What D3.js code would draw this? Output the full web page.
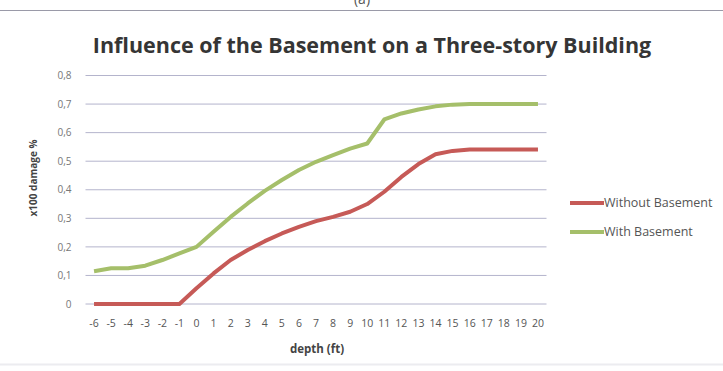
<!DOCTYPE html>
<html>
<head>
<meta charset="utf-8">
<script src="https://cdn.jsdelivr.net/npm/d3@7"></script>
<style>
  html, body { margin: 0; padding: 0; background: #fff; }
  svg { display: block; }
  text { font-family: "Open Sans", Lato, sans-serif; }
</style>
</head>
<body>
<svg id="chart" width="723" height="371"></svg>
<script>
// Depth categories (ft) along the x axis
const depths = [-6, -5, -4, -3, -2, -1, 0, 1, 2, 3, 4, 5, 6, 7, 8, 9, 10, 11, 12, 13, 14, 15, 16, 17, 18, 19, 20];

// Damage ratio (x100 %) per depth
const withoutBasement = [0, 0, 0, 0, 0, 0, 0.055, 0.107, 0.154, 0.189, 0.22, 0.247, 0.27, 0.29, 0.305,
  0.323, 0.35, 0.393, 0.445, 0.49, 0.524, 0.536, 0.541, 0.541, 0.541, 0.541, 0.541];
const withBasement = [0.115, 0.125, 0.125, 0.134, 0.154, 0.177, 0.2, 0.253, 0.305, 0.352, 0.396, 0.434, 0.469,
  0.498, 0.521, 0.544, 0.562, 0.646, 0.667, 0.681, 0.692, 0.698, 0.70, 0.70, 0.70, 0.70, 0.70];

const yTicks = [0, 0.1, 0.2, 0.3, 0.4, 0.5, 0.6, 0.7, 0.8];
const seriesNames = ["Without Basement", "With Basement"];
const seriesColors = ["#c65a57", "#a5bf6a"];

const svg = d3.select("#chart");

// Rule across the top of the figure, with the clipped panel label above it
svg.append("text").attr("x", 362).attr("y", 4).attr("text-anchor", "middle")
  .attr("font-size", 14).attr("fill", "#555").text("(a)");
svg.append("rect").attr("x", 0).attr("y", 11).attr("width", 723).attr("height", 360).attr("fill", "#fff");
svg.append("line").attr("x1", 0).attr("x2", 723).attr("y1", 10.5).attr("y2", 10.5)
  .attr("stroke", "#9a9aa8").attr("stroke-width", 1.2);

// Faint lower edge of the chart area
svg.append("line").attr("x1", 0).attr("x2", 723).attr("y1", 364.5).attr("y2", 364.5)
  .attr("stroke", "#ececf0").attr("stroke-width", 2);

const plot = { left: 85.5, right: 546.5, top: 75.5, bottom: 304 };

const x = d3.scaleBand().domain(depths).range([plot.left, plot.right]);
const y = d3.scaleLinear().domain([0, 0.8]).range([plot.bottom, plot.top]);
const cx = d => x(d) + x.bandwidth() / 2;

// Title
svg.append("text").attr("x", 372).attr("y", 53).attr("text-anchor", "middle")
  .attr("font-size", 21.5).attr("font-weight", "bold").attr("fill", "#353535")
  .text("Influence of the Basement on a Three-story Building");

// Horizontal gridlines
svg.append("g").selectAll("line").data(yTicks).join("line")
  .attr("x1", plot.left).attr("x2", plot.right)
  .attr("y1", d => y(d)).attr("y2", d => y(d))
  .attr("stroke", "#b4b4cc").attr("stroke-width", 1);

// Y axis tick labels (comma decimals)
const fmtComma = d => d === 0 ? "0" : d3.format(".1f")(d).replace(".", ",");
const yAxis = d3.axisLeft(y).tickValues(yTicks).tickFormat(fmtComma).tickSize(0).tickPadding(14);
const gy = svg.append("g").attr("transform", `translate(${plot.left},0)`).call(yAxis);
gy.select(".domain").remove();
gy.selectAll("text").attr("font-size", 10).attr("fill", "#777").attr("font-family", "Lato, sans-serif");

// X axis tick labels
const xAxis = d3.axisBottom(x).tickSize(0).tickPadding(16);
const gx = svg.append("g").attr("transform", `translate(0,${plot.bottom})`).call(xAxis);
gx.select(".domain").remove();
gx.selectAll("text").attr("font-size", 10.5).attr("fill", "#555").attr("font-family", "Lato, sans-serif");

// Axis titles
svg.append("text").attr("x", 317).attr("y", 353).attr("text-anchor", "middle")
  .attr("font-size", 11.5).attr("font-weight", "bold").attr("fill", "#444").text("depth (ft)");
svg.append("text").attr("transform", "translate(37,178) rotate(-90)").attr("text-anchor", "middle")
  .attr("font-size", 10).attr("font-weight", "bold").attr("fill", "#444").text("x100 damage %");

// Series lines
const line = d3.line().x((d, i) => cx(depths[i])).y(d => y(d));
[withoutBasement, withBasement].forEach((vals, k) => {
  svg.append("path").datum(vals).attr("d", line)
    .attr("fill", "none").attr("stroke", seriesColors[k])
    .attr("stroke-width", 4).attr("stroke-linejoin", "round");
});

// Legend
const legend = svg.append("g").selectAll("g").data(seriesNames).join("g")
  .attr("transform", (d, i) => `translate(570,${203 + i * 29})`);
legend.append("line").attr("x1", 0).attr("x2", 34).attr("y1", 0).attr("y2", 0)
  .attr("stroke", (d, i) => seriesColors[i]).attr("stroke-width", 4);
legend.append("text").attr("x", 34).attr("y", 4).attr("font-size", 12.5)
  .attr("fill", "#555").text(d => d);
</script>
</body>
</html>
